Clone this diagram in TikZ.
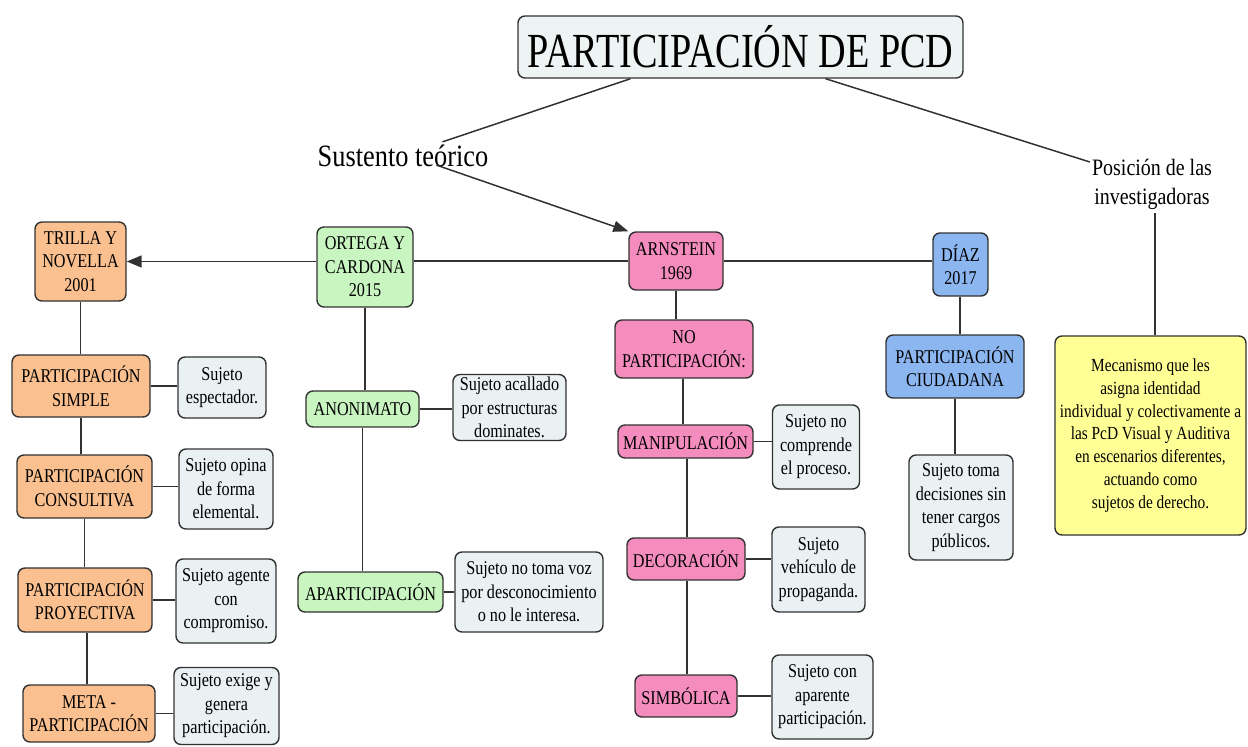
\documentclass[tikz,border=0pt]{standalone}
\usepackage{fontspec}
\setmainfont{Liberation Serif}[FakeStretch=0.83]
\newfontfamily\titlefont{Liberation Serif}[FakeStretch=0.78]
\newfontfamily\labelfont{Liberation Serif}[FakeStretch=0.85]
\usetikzlibrary{arrows.meta,calc}
\definecolor{corange}{RGB}{250,192,143}
\definecolor{cgreen}{RGB}{200,245,192}
\definecolor{cpink}{RGB}{244,140,190}
\definecolor{cblue}{RGB}{140,182,240}
\definecolor{cgrey}{RGB}{234,241,243}
\definecolor{cyellow}{RGB}{255,255,150}
\definecolor{ctitle}{RGB}{238,243,244}
\definecolor{cline}{RGB}{50,50,50}
\tikzset{
  box/.style={draw=cline, line width=1.4pt, rounded corners=7pt, inner sep=0pt, align=center,
    font=\fontsize{19.5}{23.5}\selectfont},
  ob/.style={box, fill=corange},
  gb/.style={box, fill=cgreen},
  pb/.style={box, fill=cpink},
  bb/.style={box, fill=cblue},
  eb/.style={box, fill=cgrey},
  conn/.style={draw=cline, line width=1.5pt},
  sz/.style n args={2}{minimum width=#1pt, minimum height=#2pt},
}
\begin{document}
\begin{tikzpicture}[x=1pt,y=-1pt]
\useasboundingbox (0,0) rectangle (1248,747);
% title
\node[box, fill=ctitle, sz={445}{62}, font=\titlefont\fontsize{49}{52}\selectfont] (title) at (740.5,47) {PARTICIPACIÓN DE PCD};
\node[inner sep=0pt, font=\labelfont\fontsize{31}{34}\selectfont] (sust) at (403,156) {Sustento teórico};
\node[inner sep=0pt, align=center, font=\labelfont\fontsize{23.5}{29}\selectfont] (pos) at (1152,184) {Posición de las\\investigadoras};
% orange column
\node[ob, sz={91}{79}] (trilla) at (80.5,261.5) {TRILLA Y\\NOVELLA\\2001};
\node[ob, sz={138}{62}] (psimple) at (81,386) {PARTICIPACIÓN\\SIMPLE};
\node[ob, sz={135}{63}] (pcons) at (84.5,486.5) {PARTICIPACIÓN\\CONSULTIVA};
\node[ob, sz={134}{64}] (pproy) at (85,600) {PARTICIPACIÓN\\PROYECTIVA};
\node[ob, sz={132}{57}] (pmeta) at (89,713.5) {META -\\PARTICIPACIÓN};
\node[eb, sz={88}{61}] (gsimple) at (222,387.5) {Sujeto\\espectador.};
\node[eb, sz={94}{80}] (gcons) at (226,489) {Sujeto opina\\de forma\\elemental.};
\node[eb, sz={100}{84}] (gproy) at (226,601) {Sujeto agente\\con\\compromiso.};
\node[eb, sz={105}{77}] (gmeta) at (226.5,706) {Sujeto exige y\\genera\\participación.};
% green column
\node[gb, sz={96}{80}] (ortega) at (365,267) {ORTEGA Y\\CARDONA\\2015};
\node[gb, sz={113}{36}] (anon) at (362.5,409) {ANONIMATO};
\node[gb, sz={145}{40}] (apart) at (370.5,592) {APARTICIPACIÓN};
\node[eb, sz={113}{66}] (ganon) at (509.5,407.5) {Sujeto acallado\\por estructuras\\dominates.};
\node[eb, sz={148}{80}] (gapart) at (529,592) {Sujeto no toma voz\\por desconocimiento\\o no le interesa.};
% pink column
\node[pb, sz={94}{58}] (arn) at (676,261) {ARNSTEIN\\1969};
\node[pb, sz={138}{58}] (nopart) at (684,349) {NO\\PARTICIPACIÓN:};
\node[pb, sz={135}{33}] (manip) at (685.5,441.5) {MANIPULACIÓN};
\node[pb, sz={118}{42}] (decor) at (686,559) {DECORACIÓN};
\node[pb, sz={102}{42}] (simb) at (686,696) {SIMBÓLICA};
\node[eb, sz={87}{84}] (gmanip) at (816,447) {Sujeto no\\comprende\\el proceso.};
\node[eb, sz={93}{85}] (gdecor) at (818.5,569.5) {Sujeto\\vehículo de\\propaganda.};
\node[eb, sz={101}{84}] (gsimb) at (822.5,697) {Sujeto con\\aparente\\participación.};
% blue column
\node[bb, sz={55}{63}] (diaz) at (960.5,264.5) {DÍAZ\\2017};
\node[bb, sz={138}{63}] (pciud) at (955,366.5) {PARTICIPACIÓN\\CIUDADANA};
\node[eb, sz={104}{105}] (gciud) at (961,507.5) {Sujeto toma\\decisiones sin\\tener cargos\\públicos.};
% yellow
\node[box, fill=cyellow, sz={191}{199}, font=\fontsize{18.5}{22.7}\selectfont] (yel) at (1150.5,435.5) {Mecanismo que les\\asigna identidad\\individual y colectivamente a\\las PcD Visual y Auditiva\\en escenarios diferentes,\\actuando como\\sujetos de derecho.};
% connectors from title
\draw[conn] ($(title.south)+(-110,0)$) -- ($(sust.north east)+(-46,-3)$);
\draw[conn, -{Triangle[length=15pt,width=11pt]}] ($(sust.south east)+(-52,-2)$) -- (arn.north west);
\draw[conn] ($(title.south)+(85,0)$) -- ($(pos.west)+(-2,-22)$);
\draw[conn] ($(pos.south -| yel.north)+(4.5,4)$) -- ($(yel.north)+(4.5,0)$);
% main horizontal
\draw[conn, -{Triangle[length=15pt,width=12pt]}] (ortega.west |- trilla.east) -- (trilla.east);
\draw[conn] (ortega.east |- arn.west) -- (arn.west);
\draw[conn] (arn.east) -- (diaz.west |- arn.east);
% verticals
\draw[conn] (trilla.south) -- (trilla.south |- psimple.north);
\draw[conn] (psimple.south) -- (psimple.south |- pcons.north);
\draw[conn] (pcons.south) -- (pcons.south |- pproy.north);
\draw[conn] ($(pproy.south)+(2,0)$) -- ($(pproy.south |- pmeta.north)+(2,0)$);
\draw[conn] (ortega.south) -- (ortega.south |- anon.north);
\draw[conn] (anon.south) -- (anon.south |- apart.north);
\draw[conn] (arn.south) -- (arn.south |- nopart.north);
\draw[conn] ($(nopart.south)+(-1,0)$) -- ($(nopart.south |- manip.north)+(-1,0)$);
\draw[conn] ($(manip.south)+(1.5,0)$) -- ($(manip.south |- decor.north)+(1.5,0)$);
\draw[conn] ($(decor.south)+(1,0)$) -- ($(decor.south |- simb.north)+(1,0)$);
\draw[conn] ($(diaz.south)+(-0.5,0)$) -- ($(diaz.south |- pciud.north)+(-0.5,0)$);
\draw[conn] (pciud.south) -- (pciud.south |- gciud.north);
% horizontals to grey boxes
\draw[conn] (psimple.east) -- (gsimple.west |- psimple.east);
\draw[conn] (pcons.east) -- (gcons.west |- pcons.east);
\draw[conn] (pproy.east) -- (gproy.west |- pproy.east);
\draw[conn] (pmeta.east) -- (gmeta.west |- pmeta.east);
\draw[conn] (anon.east) -- (ganon.west |- anon.east);
\draw[conn] (apart.east) -- (gapart.west |- apart.east);
\draw[conn] (manip.east) -- (gmanip.west |- manip.east);
\draw[conn] (decor.east) -- (gdecor.west |- decor.east);
\draw[conn] (simb.east) -- (gsimb.west |- simb.east);
\end{tikzpicture}
\end{document}
